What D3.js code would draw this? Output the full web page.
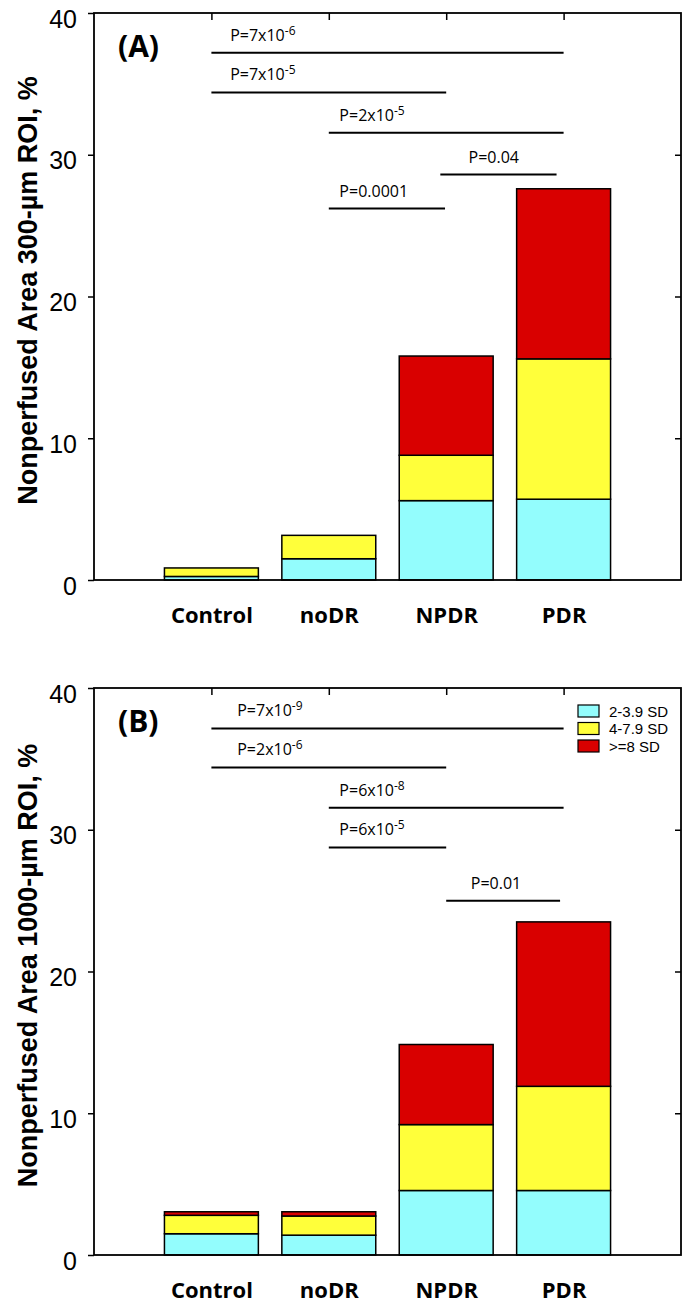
<!DOCTYPE html>
<html>
<head>
<meta charset="utf-8">
<title>Nonperfused area by DR group</title>
<script src="https://cdn.jsdelivr.net/npm/d3@7"></script>
<style>
  body { margin: 0; background: #fff; }
  text { fill: #000; }
  .axis text { font-family: "Liberation Sans", Arial, sans-serif; font-size: 25px; }
  .cat text { font-family: "Open Sans", sans-serif; font-weight: bold; font-size: 22px; }
  .ytitle { font-family: "Liberation Sans", Arial, sans-serif; font-weight: bold; font-size: 27px; }
  .plabel { font-family: "Open Sans", sans-serif; font-weight: bold; font-size: 30px; }
  .pval { font-family: "Open Sans", sans-serif; font-size: 16px; }
  .leg { font-family: "Liberation Sans", Arial, sans-serif; font-size: 15px; }
</style>
</head>
<body>
<div id="chart"></div>
<script>
// categories and legend
var groups = ["Control", "noDR", "NPDR", "PDR"];
var levels = ["2-3.9 SD", "4-7.9 SD", ">=8 SD"];
var colors = ["#93fdfd", "#ffff3a", "#d90000"];
var yTicks = [0, 10, 20, 30, 40];

// (A) 300-um ROI, % area per SD level
var a_low  = [0.25, 1.5, 5.6, 5.7];
var a_mid  = [0.6, 1.65, 3.2, 9.9];
var a_high = [0, 0, 7.0, 12.0];
// comparisons: from/to group (1-based), bar height, label start (group units)
var a_pvals = [
  {from: 1, to: 4,    y: 37.2,  lx: 1.16, txt: "P=7x10", exp: "-6"},
  {from: 1, to: 3,    y: 34.4,  lx: 1.16, txt: "P=7x10", exp: "-5"},
  {from: 2, to: 4,    y: 31.55, lx: 2.09, txt: "P=2x10", exp: "-5"},
  {from: 2.95, to: 3.94, y: 28.6, lx: 3.19, txt: "P=0.04", exp: ""},
  {from: 2, to: 2.99, y: 26.2,  lx: 2.09, txt: "P=0.0001", exp: ""}
];

// (B) 1000-um ROI
var b_low  = [1.5, 1.4, 4.55, 4.55];
var b_mid  = [1.3, 1.35, 4.65, 7.35];
var b_high = [0.25, 0.3, 5.65, 11.6];
var b_pvals = [
  {from: 1, to: 4,    y: 37.15, lx: 1.22, txt: "P=7x10", exp: "-9"},
  {from: 1, to: 3,    y: 34.4,  lx: 1.22, txt: "P=2x10", exp: "-6"},
  {from: 2, to: 4,    y: 31.55, lx: 2.09, txt: "P=6x10", exp: "-8"},
  {from: 2, to: 3,    y: 28.75, lx: 2.09, txt: "P=6x10", exp: "-5"},
  {from: 3, to: 3.97, y: 25.0,  lx: 3.21, txt: "P=0.01", exp: ""}
];

var W = 687, H = 1304;
var plotH = 567;
var svg = d3.select("#chart").append("svg").attr("width", W).attr("height", H);
var x = d3.scaleLinear().domain([0, 5]).range([94, 681]);

var panels = [
  {top: 13,  tag: "(A)", title: "Nonperfused Area 300-\u00b5m ROI, %",  low: a_low, mid: a_mid, high: a_high, pvals: a_pvals, legend: false},
  {top: 688, tag: "(B)", title: "Nonperfused Area 1000-\u00b5m ROI, %", low: b_low, mid: b_mid, high: b_high, pvals: b_pvals, legend: true}
];

function drawPanel(p) {
  var y = d3.scaleLinear().domain([0, 40]).range([p.top + plotH, p.top]);
  var g = svg.append("g");

  // stacked bars
  var rows = groups.map(function (name, i) {
    return {name: name, low: p.low[i], mid: p.mid[i], high: p.high[i]};
  });
  var series = d3.stack().keys(["low", "mid", "high"])(rows);
  g.selectAll("g.layer")
    .data(series)
    .enter().append("g")
    .attr("class", "layer")
    .attr("fill", function (d, i) { return colors[i]; })
    .selectAll("rect")
    .data(function (d) { return d.filter(function (s) { return s[1] - s[0] > 0; }); })
    .enter().append("rect")
    .attr("x", function (d) { return x(groups.indexOf(d.data.name) + 1 - 0.4); })
    .attr("width", x(0.8) - x(0))
    .attr("y", function (d) { return y(d[1]); })
    .attr("height", function (d) { return y(d[0]) - y(d[1]); })
    .attr("stroke", "#000")
    .attr("stroke-width", 1.5);

  // left axis (outward ticks), labels sit a bit low like the original
  var left = g.append("g").attr("class", "axis")
    .attr("transform", "translate(" + x(0) + ",0)")
    .call(d3.axisLeft(y).tickValues(yTicks).tickSize(6).tickPadding(11));
  left.select(".domain").remove();
  left.selectAll("line").attr("stroke-width", 1.5);
  left.selectAll("text").attr("y", 6);

  // right axis, inward ticks
  var right = g.append("g")
    .attr("transform", "translate(" + x(5) + ",0)")
    .call(d3.axisRight(y).tickValues(yTicks.slice(1, 4)).tickSize(-6).tickFormat(""));
  right.select(".domain").remove();
  right.selectAll("line").attr("stroke-width", 1.5);

  // top axis, inward ticks at the groups
  var topAx = g.append("g")
    .attr("transform", "translate(0," + p.top + ")")
    .call(d3.axisTop(x).tickValues([1, 2, 3, 4]).tickSize(-7).tickFormat(""));
  topAx.select(".domain").remove();
  topAx.selectAll("line").attr("stroke-width", 1.5);

  // group labels
  var bottom = g.append("g").attr("class", "cat")
    .attr("transform", "translate(0," + (p.top + plotH) + ")")
    .call(d3.axisBottom(x).tickValues([1, 2, 3, 4]).tickSize(0)
      .tickFormat(function (d) { return groups[d - 1]; }));
  bottom.select(".domain").remove();
  bottom.selectAll("text").attr("y", 43).attr("dy", null);

  // frame
  g.append("rect")
    .attr("x", x(0)).attr("y", p.top)
    .attr("width", x(5) - x(0)).attr("height", plotH)
    .attr("fill", "none").attr("stroke", "#000").attr("stroke-width", 1.8);

  // y title
  g.append("text").attr("class", "ytitle")
    .attr("text-anchor", "middle")
    .attr("transform", "translate(37," + (p.top + plotH / 2 - 6) + ") rotate(-90)")
    .text(p.title);

  // panel tag
  g.append("text").attr("class", "plabel")
    .attr("x", 118).attr("y", p.top + 44)
    .text(p.tag);

  // p-value bars
  p.pvals.forEach(function (c) {
    g.append("line")
      .attr("x1", x(c.from)).attr("x2", x(c.to))
      .attr("y1", y(c.y)).attr("y2", y(c.y))
      .attr("stroke", "#000").attr("stroke-width", 2);
    var t = g.append("text").attr("class", "pval")
      .attr("x", x(c.lx)).attr("y", y(c.y) - 12);
    t.append("tspan").text(c.txt);
    if (c.exp) {
      t.append("tspan").attr("dy", -6).attr("font-size", "12px").text(c.exp);
    }
  });

  // legend
  if (p.legend) {
    var leg = g.selectAll("g.leg")
      .data(levels)
      .enter().append("g")
      .attr("transform", function (d, i) { return "translate(578," + (p.top + 23 + i * 17.5) + ")"; });
    leg.append("rect")
      .attr("x", 0).attr("y", -6).attr("width", 21).attr("height", 12)
      .attr("fill", function (d, i) { return colors[i]; })
      .attr("stroke", "#000").attr("stroke-width", 1.2);
    leg.append("text").attr("class", "leg")
      .attr("x", 31).attr("y", 5.5)
      .text(function (d) { return d; });
  }
}

panels.forEach(drawPanel);
</script>
</body>
</html>
